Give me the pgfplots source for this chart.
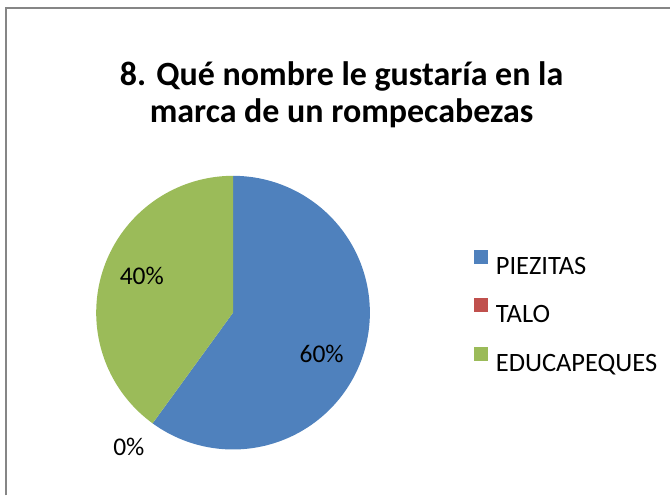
\documentclass[border=0pt]{standalone}
\usepackage{pgfplots}
\pgfplotsset{compat=1.18}
\usepackage{fontspec}
\setmainfont{Carlito}
\definecolor{pblue}{RGB}{79,129,189}
\definecolor{pred}{RGB}{192,80,77}
\definecolor{pgreen}{RGB}{155,187,89}
\definecolor{bordergray}{RGB}{134,134,134}
% data (percent)
\def\vA{60}   % PIEZITAS
\def\vB{0}    % TALO
\def\vC{40}   % EDUCAPEQUES
\def\cx{233.3}
\def\cy{183}
\def\rr{137}
\begin{document}
\begin{tikzpicture}
\begin{axis}[
  at={(0,0)}, anchor=south west,
  scale only axis, width=671pt, height=496pt,
  xmin=0, xmax=671, ymin=0, ymax=496,
  hide axis, clip=false,
  legend style={draw=none, fill=none, at={(axis cs:471,248)}, anchor=north west,
    font=\fontsize{26.5}{30}\selectfont, row sep=24pt,
    nodes={inner sep=0pt, text height=18pt, text depth=0pt}},
  legend cell align=left,
  legend image code/.code={\path[#1,draw=none] (0pt,1.5pt) rectangle (14pt,15.5pt); \path (22pt,0pt);},
]
\path (axis cs:0,0) rectangle (axis cs:671,496);
\draw[bordergray, line width=1.5pt] (axis cs:6,0) -- (axis cs:6,488) -- (axis cs:671,488);
\addlegendimage{fill=pblue}\addlegendentry{PIEZITAS}
\addlegendimage{fill=pred}\addlegendentry{TALO}
\addlegendimage{fill=pgreen}\addlegendentry{EDUCAPEQUES}
% PIEZITAS: clockwise from 12 o'clock
\addplot[forget plot, fill=pblue, draw=none, domain={90-3.6*\vA}:90, samples=120]
  ({\cx+\rr*cos(x)},{\cy+\rr*sin(x)}) -- (axis cs:\cx,\cy) -- cycle;
% EDUCAPEQUES
\addplot[forget plot, fill=pgreen, draw=none, domain={90-3.6*(\vA+\vB)-3.6*\vC}:{90-3.6*(\vA+\vB)}, samples=80]
  ({\cx+\rr*cos(x)},{\cy+\rr*sin(x)}) -- (axis cs:\cx,\cy) -- cycle;
\node[font=\fontsize{25.5}{30}\selectfont] at (axis cs:142,220) {40\%};
\node[font=\fontsize{25.5}{30}\selectfont] at (axis cs:322,142) {60\%};
\node[font=\fontsize{25.5}{30}\selectfont] at (axis cs:129,49) {0\%};
\node[font=\bfseries\fontsize{34}{40}\selectfont, anchor=base] at (axis cs:342,410) {8. Qué nombre le gustaría en la};
\node[font=\bfseries\fontsize{34}{40}\selectfont, anchor=base] at (axis cs:342,373) {marca de un rompecabezas};
\end{axis}
\end{tikzpicture}
\end{document}
